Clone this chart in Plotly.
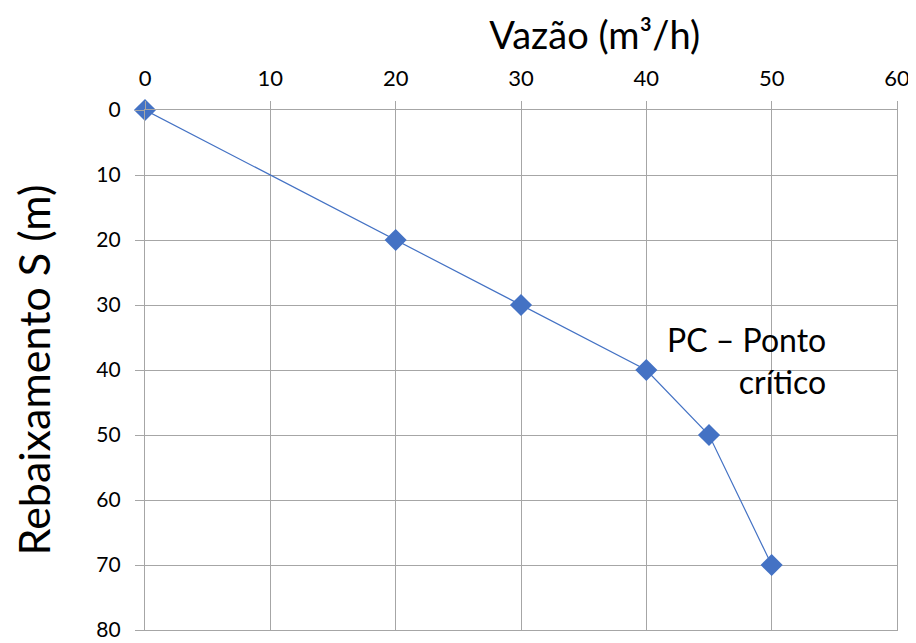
import plotly.graph_objects as go

vazao = [0, 20, 30, 40, 45, 50]
rebaixamento = [0, 20, 30, 40, 50, 70]
x_ticks = [0, 10, 20, 30, 40, 50, 60]
y_ticks = [0, 10, 20, 30, 40, 50, 60, 70, 80]

FONT = "Lato, Open Sans, sans-serif"
GRID = "#a6a6a6"
BLUE = "#4472C4"

fig = go.Figure()
fig.add_trace(go.Scatter(
    x=vazao, y=rebaixamento, mode="lines+markers",
    line=dict(color=BLUE, width=1.2),
    marker=dict(symbol="diamond", size=17, color=BLUE),
    cliponaxis=False,
    showlegend=False,
))

fig.add_annotation(
    x=54.5, y=38.5, xref="x", yref="y",
    text="PC – Ponto<br>crítico", showarrow=False,
    xanchor="right", yanchor="middle", align="right",
    font=dict(family=FONT, size=32, color="#000000"),
)

# page body has an 8px margin: size the figure to fit the 916x643 window
fig.update_layout(
    width=908, height=635,
    margin=dict(l=137, r=19, t=102, b=13),
    paper_bgcolor="white", plot_bgcolor="white",
    font=dict(family=FONT, color="#000000"),
    title=dict(
        text="Vazão (m³/h)", font=dict(size=38, color="#000000"),
        xref="paper", x=0.598, xanchor="center",
        yref="container", y=0.957, yanchor="middle",
    ),
    xaxis=dict(
        side="top", range=[0, 60], tickvals=x_ticks,
        showgrid=True, gridcolor=GRID, gridwidth=1.3,
        zeroline=False, showline=True, mirror=True,
        linecolor=GRID, linewidth=1.3, automargin=False,
        ticks="outside", ticklen=8, tickcolor=GRID, tickwidth=1.3,
        ticklabelstandoff=6, ticklabeloverflow="allow",
        tickfont=dict(size=22),
    ),
    yaxis=dict(
        range=[80, 0], tickvals=y_ticks,
        showgrid=True, gridcolor=GRID, gridwidth=1.3,
        zeroline=False, showline=True, mirror=True,
        linecolor=GRID, linewidth=1.3, automargin=False,
        ticks="outside", ticklen=9, tickcolor=GRID, tickwidth=1.3,
        ticklabelstandoff=10, ticklabeloverflow="allow",
        tickfont=dict(size=21),
        title=dict(text="Rebaixamento S (m)", font=dict(size=43), standoff=33),
    ),
)

fig.write_html("out.html")
